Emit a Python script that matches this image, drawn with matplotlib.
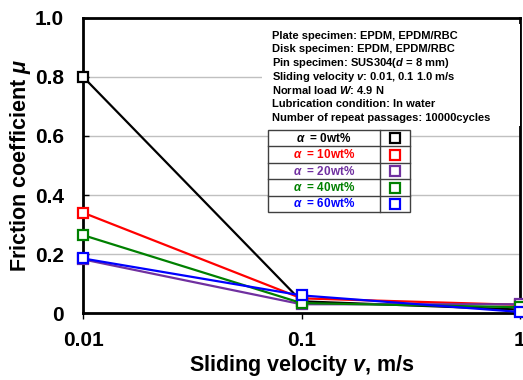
import matplotlib
matplotlib.use('Agg')
import matplotlib.pyplot as plt
from matplotlib.patches import Rectangle

plt.rcParams['font.family'] = ['Liberation Sans', 'DejaVu Sans']
plt.rcParams['font.weight'] = 'bold'
plt.rcParams['mathtext.fontset'] = 'custom'
plt.rcParams['mathtext.it'] = 'Liberation Sans:italic'
plt.rcParams['mathtext.rm'] = 'Liberation Sans:bold'

# data
velocity = [0.01, 0.1, 1.0]
mu_0 = [0.80, 0.04, 0.012]
mu_10 = [0.34, 0.050, 0.028]
mu_20 = [0.182, 0.030, 0.030]
mu_40 = [0.264, 0.034, 0.020]
mu_60 = [0.185, 0.060, 0.004]

labels = ['0wt%', '10wt%', '20wt%', '40wt%', '60wt%']
colors = ['black', 'red', '#7030a0', 'green', 'blue']
series = [mu_0, mu_10, mu_20, mu_40, mu_60]

info = ['Plate specimen: EPDM, EPDM/RBC',
        'Disk specimen: EPDM, EPDM/RBC',
        r'Pin specimen: SUS304($d$ = 8 mm)',
        r'Sliding velocity $v$: 0.01, 0.1 1.0 m/s',
        r'Normal load $W$: 4.9 N',
        'Lubrication condition: In water',
        'Number of repeat passages: 10000cycles']

fig = plt.figure(figsize=(5.23, 3.80), dpi=100)
ax = fig.add_axes([0.159, 0.176, 0.835, 0.777])

for ys, c in zip(series, colors):
    ax.plot(velocity, ys, color=c, lw=1.6, marker='s', ms=7,
            mfc='white', mec=c, mew=1.6, clip_on=False, zorder=3)

ax.set_xscale('log')
ax.set_xlim(0.01, 1)
ax.set_ylim(0, 1.0)
ax.set_xticks([0.01, 0.1, 1])
ax.set_xticklabels(['0.01', '0.1', '1'])
ax.minorticks_off()
ax.set_yticks([0, 0.2, 0.4, 0.6, 0.8, 1.0])
ax.set_yticklabels(['0', '0.2', '0.4', '0.6', '0.8', '1.0'])
ax.tick_params(labelsize=15, direction='in', length=4, width=1)
ax.tick_params(axis='y', pad=14)
ax.tick_params(axis='x', direction='out', pad=9)
ax.yaxis.grid(True, color='#c0c0c0', lw=1)
ax.set_axisbelow(True)
for s in ax.spines.values():
    s.set_linewidth(2)

ax.set_xlabel(r'Sliding velocity $\mathbf{\mathit{v}}$, m/s', fontsize=15.5,
              fontweight='bold', labelpad=2)
ax.set_ylabel(r'Friction coefficient $\mu$', fontsize=15.5, fontweight='bold',
              labelpad=1)

# condition text
ax.add_patch(Rectangle((0.41, 0.635), 0.59, 0.345, transform=ax.transAxes,
                       facecolor='white', edgecolor='none', zorder=4))
for i, line in enumerate(info):
    ax.text(0.432, 0.94 - i * 0.0465, line, transform=ax.transAxes,
            fontsize=8, fontweight='bold', va='center', zorder=5)

# legend table
x0, x1, x2 = 0.423, 0.680, 0.748
top, rh = 0.620, 0.0556
ax.add_patch(Rectangle((x0, top - 5 * rh), x2 - x0, 5 * rh, transform=ax.transAxes,
                       facecolor='white', edgecolor='#404040', lw=1, zorder=4))
ax.plot([x1, x1], [top, top - 5 * rh], transform=ax.transAxes, color='#404040',
        lw=1, zorder=5)
for i, (lab, c) in enumerate(zip(labels, colors)):
    yc = top - (i + 0.5) * rh
    if i > 0:
        ax.plot([x0, x2], [top - i * rh, top - i * rh], transform=ax.transAxes,
                color='#404040', lw=1, zorder=5)
    ax.text((x0 + x1) / 2, yc, r'$\alpha$  = ' + lab, transform=ax.transAxes,
            color=c, fontsize=8.5, fontweight='bold', ha='center', va='center',
            zorder=6)
    ax.plot([(x1 + x2) / 2], [yc], transform=ax.transAxes, marker='s', ms=7,
            mfc='white', mec=c, mew=1.6, zorder=6)

fig.savefig('out.png', dpi=100)
